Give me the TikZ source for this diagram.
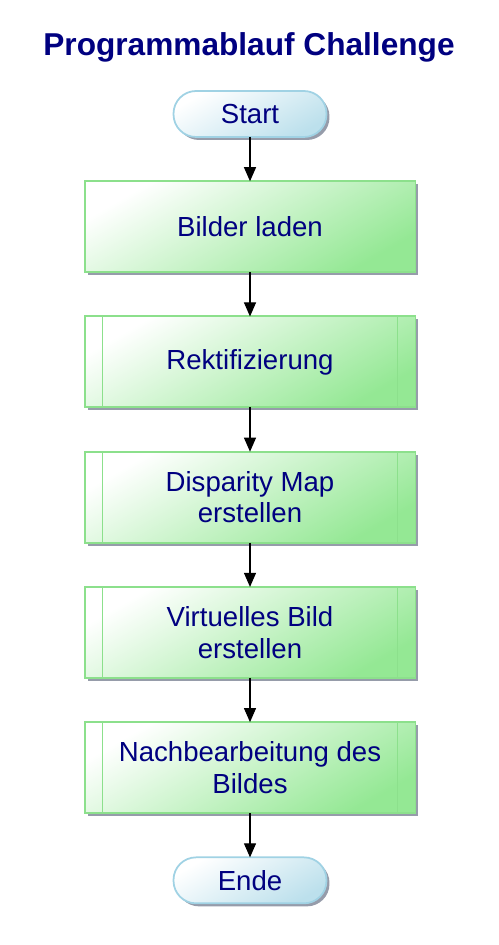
\documentclass[tikz,border=0pt]{standalone}
\usepackage{fontspec}
\setmainfont{Liberation Sans}
\usepackage{xcolor}
\usetikzlibrary{arrows.meta,calc,positioning,shadows}

\definecolor{flowtext}{RGB}{0,0,128}
\definecolor{boxgreen}{RGB}{148,232,148}
\definecolor{boxedge}{RGB}{140,224,140}
\definecolor{pillblue}{RGB}{188,224,236}
\definecolor{pilledge}{RGB}{160,210,228}
\definecolor{shadowgray}{RGB}{150,156,170}

\begin{document}
\begin{tikzpicture}[x=0.02cm, y=-0.02cm, node distance=0.885cm,
		arrow/.style = {line width=0.6pt,-{Triangle[width=0.24cm,length=0.28cm]}}]
		\tikzset{terminal/.style={draw=pilledge,line width=1pt,rounded corners=0.45cm,
				minimum width=3.06cm,minimum height=0.92cm,inner sep=0pt,outer sep=0pt,
				top color=white,bottom color=pillblue,shading angle=30,
				drop shadow={shadow xshift=0.06cm,shadow yshift=-0.06cm,fill=shadowgray,opacity=1},
				text=flowtext,font=\fontsize{15.7}{18}\selectfont}}
		\tikzset{process/.style={draw=boxedge,line width=1.1pt,rectangle,
				minimum width=6.62cm,minimum height=1.82cm,inner sep=0pt,outer sep=0pt,align=center,
				top color=white,bottom color=boxgreen,shading angle=30,
				drop shadow={shadow xshift=0.06cm,shadow yshift=-0.06cm,fill=shadowgray,opacity=1},
				text=flowtext,font=\fontsize{15.7}{18}\selectfont}}
		\tikzset{subline/.style={draw=boxedge,line width=1pt}}

		\useasboundingbox (0,0) rectangle (498,945);

		\node[text=flowtext, font=\bfseries\fontsize{18}{21}\selectfont] (title) at (249,47) {Programmablauf Challenge};

		\node[terminal] (start) at (250,114) {Start};
		\node[process, below=of start] (laden) {Bilder laden};
		\node[process, below=of laden] (rekt) {Rektifizierung};
		\node[process, below=of rekt] (disp) {Disparity Map\\erstellen};
		\node[process, below=of disp] (virt) {Virtuelles Bild\\erstellen};
		\node[process, below=of virt] (nach) {Nachbearbeitung des\\Bildes};
		\node[terminal, below=of nach] (ende) {Ende};

		% side bars of the sub-process boxes
		\foreach \n in {rekt,disp,virt,nach} {
			\draw[subline] ($(\n.north west)+(18,0)$) -- ($(\n.south west)+(18,0)$);
			\draw[subline] ($(\n.north east)+(-18,0)$) -- ($(\n.south east)+(-18,0)$);
		}

		\draw [arrow] (start) -- (laden);
		\draw [arrow] (laden) -- (rekt);
		\draw [arrow] (rekt) -- (disp);
		\draw [arrow] (disp) -- (virt);
		\draw [arrow] (virt) -- (nach);
		\draw [arrow] (nach) -- (ende);

	\end{tikzpicture}
\end{document}
